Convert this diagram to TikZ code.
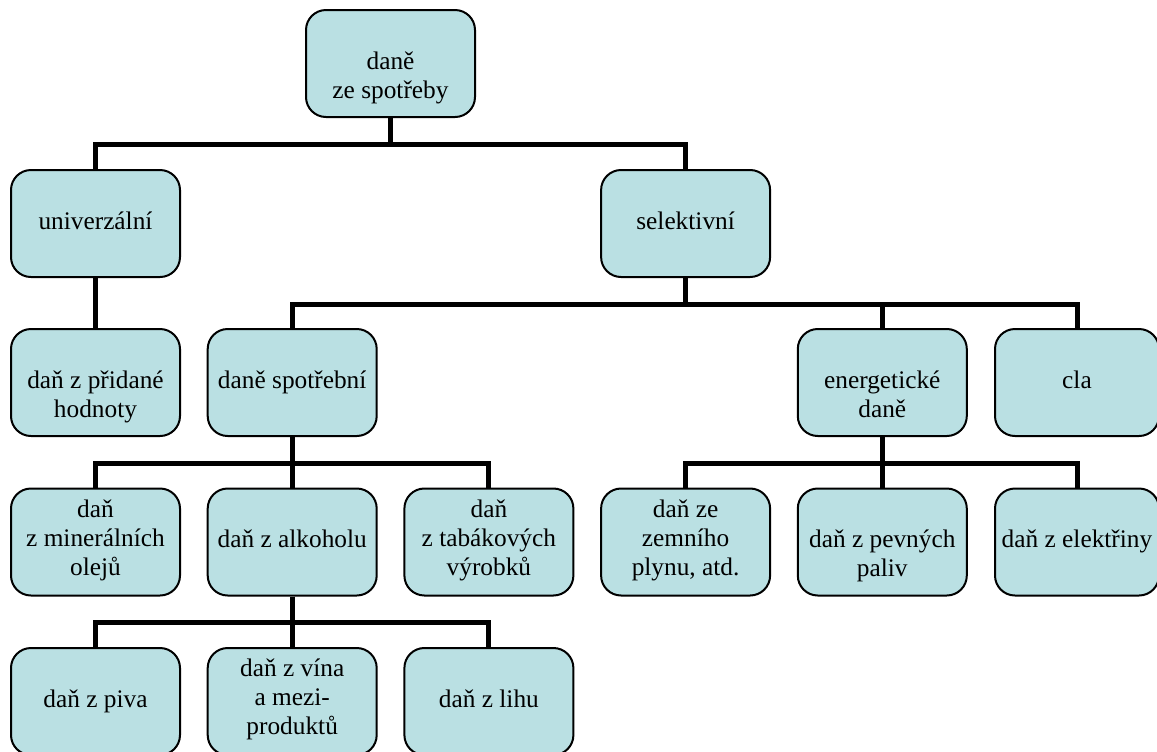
\documentclass[tikz,border=0pt]{standalone}
\usepackage{fontspec}
\setmainfont{Liberation Serif}
\definecolor{boxfill}{RGB}{186,224,227}
\begin{document}
\begin{tikzpicture}[x=0.75pt, y=-0.75pt,
	taxbox/.style={draw=black, line width=1.5pt, fill=boxfill, rounded corners=15pt,
		minimum width=126.75pt, minimum height=80.25pt, inner sep=2pt, align=center,
		font=\fontsize{19}{21.75}\selectfont,
		execute at begin node=\strut, execute at end node=\strut},
	edgebox/.style={taxbox, minimum width=123pt},
	link/.style={line width=3.75pt}]
	\useasboundingbox (0,0) rectangle (1157,751);
	\node[taxbox] (spotreba) at (390.5,63.5) {\strut\\daně\\ze spotřeby};
	\node[taxbox] (univ) at (95.5,223.5) {univerzální};
	\node[taxbox] (selekt) at (685.6,223.5) {selektivní};
	\node[taxbox] (dph) at (95.5,382.5) {\strut\\daň z přidané\\hodnoty};
	\node[taxbox] (spotrebni) at (292.2,382.5) {daně spotřební};
	\node[taxbox] (energ) at (882.3,382.5) {\strut\\energetické\\daně};
	\node[edgebox] (cla) at (1077,382.5) {cla};
	\node[taxbox] (miner) at (95.5,542) {daň\\z minerálních\\olejů};
	\node[taxbox] (alkohol) at (292.2,542) {daň z alkoholu};
	\node[taxbox] (tabak) at (488.9,542) {daň\\z tabákových\\výrobků};
	\node[taxbox] (plyn) at (685.6,542) {daň ze\\zemního\\plynu, atd.};
	\node[taxbox] (paliva) at (882.3,542) {\strut\\daň z pevných\\paliv};
	\node[edgebox] (elektr) at (1077,542) {daň z elektřiny};
	\node[taxbox] (pivo) at (95.5,701.5) {daň z piva};
	\node[taxbox] (vino) at (292.2,701.5) {daň z vína\\a mezi-\\produktů};
	\node[taxbox] (lih) at (488.9,701.5) {daň z lihu};
	\draw[link] (spotreba.south) -- ++(0,26) -| (univ.north);
	\draw[link] (spotreba.south) -- ++(0,26) -| (selekt.north);
	\draw[link] (univ.south) -- (dph.north);
	\draw[link] (selekt.south) -- ++(0,26) -| (spotrebni.north);
	\draw[link] (selekt.south) -- ++(0,26) -| (energ.north);
	\draw[link] (selekt.south) -- ++(0,26) -| (cla.north);
	\draw[link] (spotrebni.south) -- ++(0,26) -| (miner.north);
	\draw[link] (spotrebni.south) -- ++(0,26) -| (alkohol.north);
	\draw[link] (spotrebni.south) -- ++(0,26) -| (tabak.north);
	\draw[link] (energ.south) -- ++(0,26) -| (plyn.north);
	\draw[link] (energ.south) -- ++(0,26) -| (paliva.north);
	\draw[link] (energ.south) -- ++(0,26) -| (elektr.north);
	\draw[link] (alkohol.south) -- ++(0,26) -| (pivo.north);
	\draw[link] (alkohol.south) -- ++(0,26) -| (vino.north);
	\draw[link] (alkohol.south) -- ++(0,26) -| (lih.north);
\end{tikzpicture}
\end{document}
